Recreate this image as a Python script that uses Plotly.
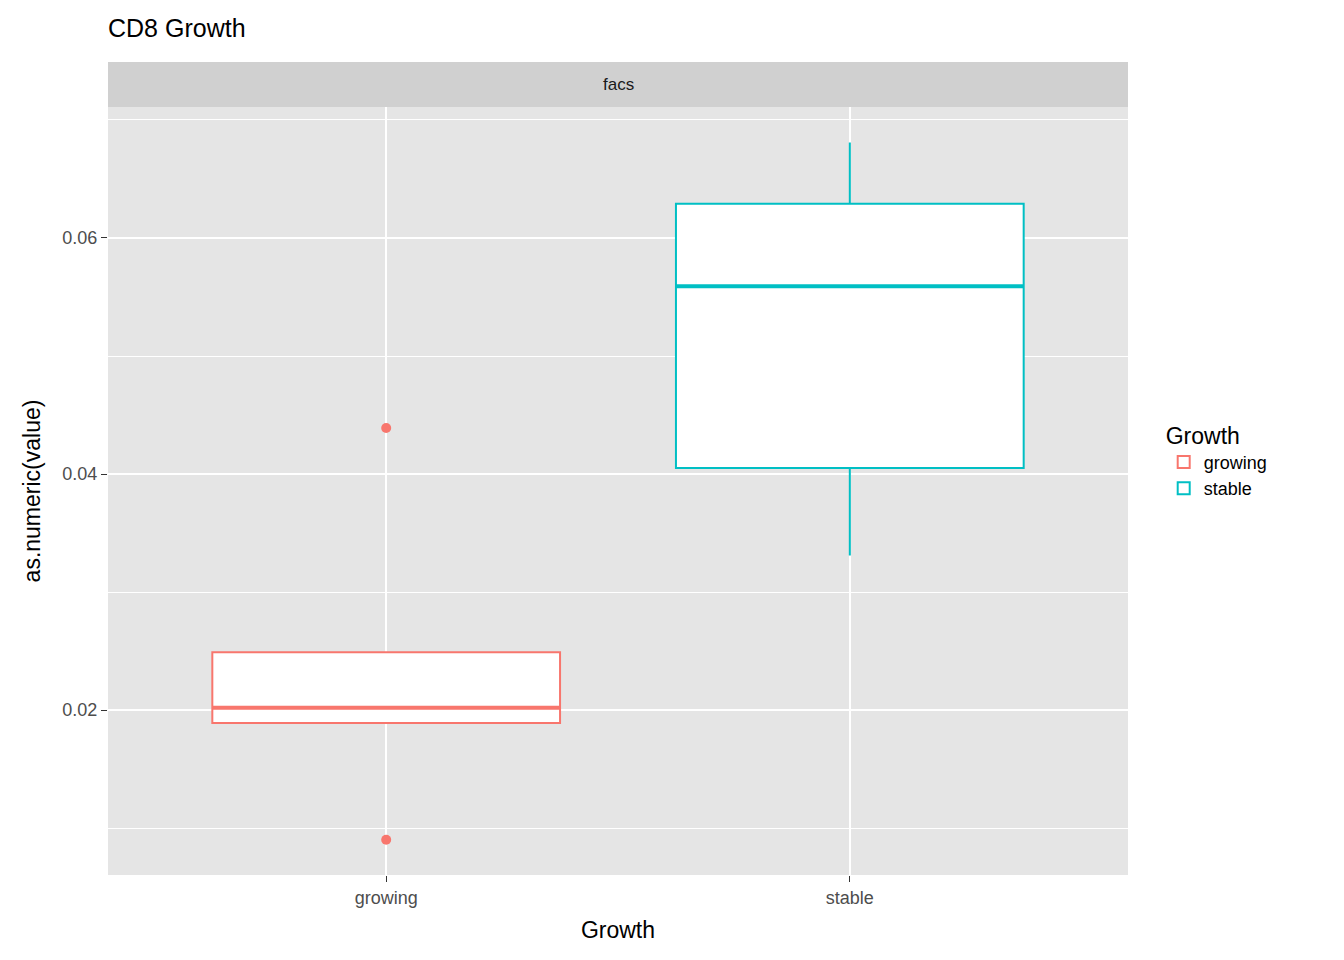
import plotly.graph_objects as go

groups = ["growing", "stable"]
colors = ["#F8766D", "#00BFC4"]
q1 = [0.0189, 0.0405]
median = [0.0202, 0.0559]
q3 = [0.0249, 0.0629]
lower = [0.0189, 0.0331]
upper = [0.0249, 0.0681]
outlier_group = ["growing", "growing"]
outlier_vals = [0.0439, 0.0090]
box_width = 0.75

fig = go.Figure()
for i, g in enumerate(groups):
    fig.add_trace(go.Box(
        x=[i + 1], q1=[q1[i]], median=[median[i]], q3=[q3[i]],
        lowerfence=[lower[i]], upperfence=[upper[i]], name=g,
        width=box_width, fillcolor="white", line=dict(color=colors[i], width=2),
        boxpoints=False, whiskerwidth=0))
    # thicker median like ggplot
    fig.add_trace(go.Scatter(
        x=[i + 1 - box_width / 2, i + 1 + box_width / 2], y=[median[i], median[i]],
        mode="lines", line=dict(color=colors[i], width=4), showlegend=False,
        hoverinfo="skip"))
fig.add_trace(go.Scatter(
    x=[groups.index(g) + 1 for g in outlier_group], y=outlier_vals, mode="markers",
    marker=dict(color=colors[0], size=10), showlegend=False))

fig.add_shape(type="rect", xref="paper", yref="paper", x0=0, x1=1, y0=1, y1=1 + 45 / 768,
              fillcolor="#D0D0D0", line=dict(width=0), layer="below")
fig.add_annotation(text="facs", xref="paper", yref="paper", x=0.5, y=1,
                   yanchor="bottom", yshift=11, showarrow=False,
                   font=dict(size=17, color="#1A1A1A"))

fig.update_layout(
    width=1344, height=960,
    margin=dict(l=100, r=224, t=99, b=93),
    paper_bgcolor="white", plot_bgcolor="#E5E5E5",
    font=dict(family="Liberation Sans, Arial", color="#000000"),
    title=dict(text="CD8 Growth", x=100 / 1344, xanchor="left", y=1 - 20 / 960,
               yanchor="middle", font=dict(size=25)),
    legend=dict(title=dict(text="Growth", font=dict(size=23)), x=1.035, y=0.54,
                yanchor="middle", font=dict(size=18), bgcolor="white"),
    xaxis=dict(range=[0.4, 2.6], tickvals=[1, 2], ticktext=groups,
               gridcolor="white", gridwidth=2, zeroline=False,
               ticks="outside", ticklen=6, tickcolor="#333333",
               tickfont=dict(size=18, color="#4D4D4D"),
               title=dict(text="Growth", font=dict(size=23))),
    yaxis=dict(range=[0.00602, 0.0711], tick0=0, dtick=0.02, tickformat=".2f",
               gridcolor="white", gridwidth=2, zeroline=False,
               minor=dict(dtick=0.01, tick0=0, gridcolor="white", gridwidth=1),
               ticks="outside", ticklen=6, tickcolor="#333333",
               tickfont=dict(size=18, color="#4D4D4D"),
               title=dict(text="as.numeric(value)", font=dict(size=23))),
)
fig.write_html("out.html")
